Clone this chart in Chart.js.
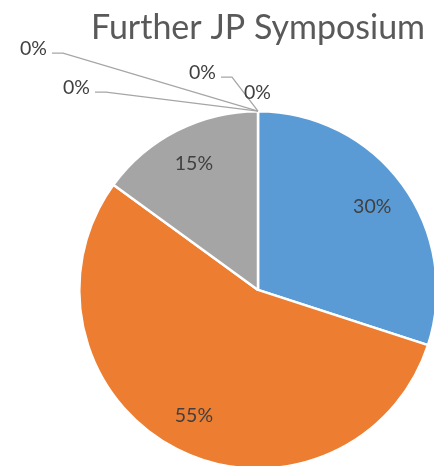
<!DOCTYPE html>
<html>
<head>
<meta charset="utf-8">
<script src="https://cdn.jsdelivr.net/npm/chart.js@4"></script>
<style>
    html, body { margin: 0; padding: 0; background: #fff; overflow: hidden; }
    #wrap { position: relative; width: 470px; height: 480px; }
    canvas { display: block; }
</style>
</head>
<body>
<div id="wrap"><canvas id="pie" width="470" height="480"></canvas></div>
<script>
// data

const chartTitle = 'Further JP Symposium';
const categories = ['A', 'B', 'C', 'D', 'E', 'F', 'G'];
const shares = [30, 55, 15, 0, 0, 0, 0];
const sliceColors = ['#5B9BD5', '#ED7D31', '#A5A5A5', '#FFC000', '#4472C4', '#70AD47', '#255E91'];

// where the 0% labels sit, relative to the point they point at (dx, dy, leader?)
const zeroLabelOffsets = [
    [-211, -62, true],
    [-168, -23, true],
    [-42, -38, true],
    [13, -18, false]
];

const labelPlugin = {
    id: 'pctLabels',
    afterDatasetsDraw(chart){
        const ctx = chart.ctx;
        const meta = chart.getDatasetMeta(0);
        const total = shares.reduce((a,b)=>a+b,0);
        ctx.save();
        ctx.font = '19.5px Lato, sans-serif';
        ctx.fillStyle = '#404040';
        ctx.textBaseline = 'middle';
        let zi = 0;
        meta.data.forEach((arc, i)=>{
            const pct = Math.round(shares[i]/total*100) + '%';
            const p = arc.getProps(['x','y','startAngle','endAngle','outerRadius']);
            const mid = (p.startAngle+p.endAngle)/2;
            if(shares[i] > 0){
                const r = p.outerRadius*0.79;
                ctx.textAlign = 'center';
                ctx.fillText(pct, p.x+Math.cos(mid)*r, p.y+Math.sin(mid)*r);
                return;
            }
            const ex = p.x+Math.cos(mid)*p.outerRadius;
            const ey = p.y+Math.sin(mid)*p.outerRadius;
            const [dx, dy, leader] = zeroLabelOffsets[zi++] || [0, -20, false];
            const lx = ex+dx, ly = ey+dy;
            ctx.textAlign = 'right';
            ctx.fillText(pct, lx, ly);
            if(leader){
                ctx.strokeStyle = '#A6A6A6';
                ctx.lineWidth = 1.3;
                ctx.beginPath();
                ctx.moveTo(lx+5, ly+4);
                ctx.lineTo(lx+16, ly+4);
                ctx.lineTo(ex, ey);
                ctx.stroke();
            }
        });
        ctx.restore();
    }
};

new Chart('pie', {
    type: 'pie',
    data: {
        labels: categories,
        datasets: [{
            data: shares,
            backgroundColor: sliceColors,
            borderColor: '#fff',
            borderWidth: 2.5
        }]
    },
    options: {
        responsive: false,
        animation: false,
        devicePixelRatio: 1,
        layout: {
            padding: {left: 78, right: 32, top: 0, bottom: 10}
        },
        plugins: {
            legend: {display: false},
            tooltip: {enabled: false},
            title: {
                display: true,
                text: chartTitle,
                color: '#595959',
                font: {family: 'Lato, sans-serif', size: 34, weight: 'normal'},
                padding: {top: 8, bottom: 61}
            }
        }
    },
    plugins: [labelPlugin]
});
</script>
</body>
</html>
